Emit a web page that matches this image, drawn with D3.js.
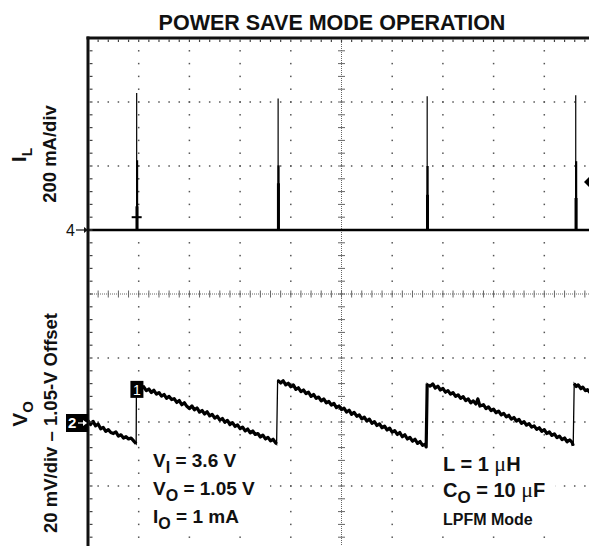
<!DOCTYPE html>
<html>
<head>
<meta charset="utf-8">
<script src="https://cdn.jsdelivr.net/npm/d3@7"></script>
<style>
  html, body { margin: 0; padding: 0; background: #fff; }
  svg { display: block; }
  text { font-family: "Liberation Sans", Arial, Helvetica, sans-serif; }
</style>
</head>
<body>
<script>
// ---- Scope screen: 10 horizontal x 8 vertical divisions ----
const titleText = "POWER SAVE MODE OPERATION";

// Inductor current (channel 4, 200 mA/div): baseline 0 mA plus short switching pulses
const ilSpikeTime = [0.96, 3.75, 6.69, 9.62];      // divisions
const ilSpikePeak = [428, 411, 418, 421];          // mA, thin trace tip
const ilSpikeMid  = [218, 202, 200, 215];          // mA, denser part of pulse
const ilSpikeLow  = [74, 146, 110, 100];           // mA, densest part of pulse
const ilTriggerMark = { t: 0.96, mA: 40 };

// Output voltage ripple (channel 2, 20 mV/div, 1.05-V offset)
const voTime = [
  0.00,0.05,0.10,0.15,0.20,0.25,0.30,0.35,0.40,0.45,0.50,0.55,0.60,0.65,0.70,0.75,0.80,0.85,0.90,0.95,
  0.955,
  1.00,1.05,1.10,1.15,1.20,1.25,1.30,1.35,1.40,1.45,1.50,1.55,1.60,1.65,1.70,1.75,1.80,1.85,1.90,1.95,
  2.00,2.05,2.10,2.15,2.20,2.25,2.30,2.35,2.40,2.45,2.50,2.55,2.60,2.65,2.70,2.75,2.80,2.85,2.90,2.95,
  3.00,3.05,3.10,3.15,3.20,3.25,3.30,3.35,3.40,3.45,3.50,3.55,3.60,3.65,3.70,3.72,
  3.74,
  3.76,3.80,3.85,3.90,3.95,4.00,4.05,4.10,4.15,4.20,4.25,4.30,4.35,4.40,4.45,4.50,4.55,4.60,4.65,4.70,
  4.75,4.80,4.85,4.90,4.95,5.00,5.05,5.10,5.15,5.20,5.25,5.30,5.35,5.40,5.45,5.50,5.55,5.60,5.65,5.70,
  5.75,5.80,5.85,5.90,5.95,6.00,6.05,6.10,6.15,6.20,6.25,6.30,6.35,6.40,6.45,6.50,6.55,6.60,6.65,6.67,
  6.69,
  6.72,6.75,6.80,6.85,6.90,6.95,7.00,7.05,7.10,7.15,7.20,7.25,7.30,7.35,7.40,7.45,7.50,7.55,7.60,7.65,
  7.69,7.73,7.80,7.85,7.90,7.95,8.00,8.05,8.10,8.15,8.20,8.25,8.30,8.35,8.40,8.45,8.50,8.55,8.60,8.65,
  8.70,8.75,8.80,8.85,8.90,8.95,9.00,9.05,9.10,9.15,9.20,9.25,9.30,9.35,9.40,9.45,9.50,9.55,9.57,
  9.59,
  9.63,9.67,9.72,9.76,9.81,9.85,9.90
];
const voMilliVolts = [
  0.4,-0.8,0.2,-1.2,-0.6,-2.1,-1.7,-2.9,-2.4,-3.3,-3.6,-3.1,-4.4,-4.0,-5.0,-4.6,-5.3,-5.0,-5.9,-6.8,
  11.6,
  10.9,10.4,11.0,9.8,10.3,9.2,9.9,8.7,9.2,8.1,8.6,7.4,8.0,7.0,7.3,6.1,6.7,5.4,6.0,4.9,
  4.2,5.0,3.8,4.4,3.1,3.6,2.5,3.2,1.9,2.4,1.2,1.8,0.6,1.1,-0.1,0.5,-0.8,-0.2,-1.4,-0.9,
  -2.1,-1.6,-2.8,-2.2,-3.4,-2.8,-3.9,-3.6,-4.7,-4.1,-5.3,-4.8,-5.9,-5.4,-6.5,-6.9,
  13.0,
  12.8,12.2,12.9,11.6,12.1,11.0,11.6,10.2,10.7,9.5,10.0,8.9,9.3,8.0,8.6,7.4,7.8,6.6,7.2,6.0,
  6.4,5.3,5.8,4.5,5.0,3.9,4.3,3.1,3.7,2.4,3.0,1.8,2.2,1.0,1.5,0.3,0.9,-0.4,0.1,-1.1,
  -0.6,-1.8,-1.3,-2.5,-1.9,-3.2,-2.7,-3.9,-3.3,-4.6,-4.0,-5.3,-4.8,-6.0,-5.4,-6.7,-6.1,-7.3,-6.9,-7.8,
  12.0,
  11.6,11.2,11.9,10.6,11.2,10.0,10.5,9.3,9.8,8.7,9.2,8.0,8.5,7.4,7.9,6.7,7.2,6.0,6.6,5.6,
  7.2,5.0,5.4,4.2,4.7,3.6,4.0,2.9,3.4,2.2,2.7,1.6,2.1,0.9,1.4,0.3,0.8,-0.4,0.1,-1.0,
  -0.5,-1.6,-1.2,-2.3,-1.8,-2.9,-2.4,-3.6,-3.1,-4.2,-3.7,-4.9,-4.4,-5.5,-5.0,-6.2,-5.6,-6.4,-7.4,
  12.0,
  11.1,11.6,10.4,10.9,9.8,10.1,9.2
];

const leftNotes  = [["V", "I", " = 3.6 V"], ["V", "O", " = 1.05 V"], ["I", "O", " = 1 mA"]];
const rightNotes = [["L = 1 ", "μ", "H"], ["C", "O", " = 10 ", "μ", "F"], ["LPFM Mode"]];

// ---- Layout ----
const W = 589, H = 546;
const svg = d3.select("body").append("svg").attr("width", W).attr("height", H);
svg.append("rect").attr("width", W).attr("height", H).attr("fill", "#fff");

const x = d3.scaleLinear().domain([0, 10]).range([88, 595]);
const y = d3.scaleLinear().domain([-4, 4]).range([550, 38]);
const ilDiv = mA => mA / 200 + 1;     // channel 4 ground one division above center
const voDiv = mV => mV / 20 - 2;      // channel 2 reference two divisions below center

svg.append("defs").append("clipPath").attr("id", "screen")
  .append("rect").attr("x", x(0)).attr("y", y(4)).attr("width", W - x(0)).attr("height", H - y(4));

const screen = svg.append("g").attr("clip-path", "url(#screen)");

// graticule
const minorX = d3.range(0, 10.001, 0.2);
const minorY = d3.range(-4, 4.001, 0.2);
const grid = screen.append("g").attr("fill", "#555");
[1, 2, 3, 4, 6, 7, 8, 9].forEach(d => {
  grid.selectAll(null).data(minorY).join("rect")
    .attr("x", x(d) - 0.75).attr("y", v => y(v) - 0.75).attr("width", 1.5).attr("height", 1.5);
});
[-3, -2, -1, 1, 2, 3].forEach(d => {
  grid.selectAll(null).data(minorX).join("rect")
    .attr("x", v => x(v) - 0.75).attr("y", y(d) - 0.75).attr("width", 1.5).attr("height", 1.5);
});
// center axes with cross ticks
const axes = screen.append("g").attr("stroke", "#666").attr("stroke-width", 1);
axes.append("line").attr("x1", x(0)).attr("x2", x(10)).attr("y1", y(0)).attr("y2", y(0))
  .attr("stroke-dasharray", "1,1");
axes.append("line").attr("x1", x(5)).attr("x2", x(5)).attr("y1", y(4)).attr("y2", y(-4))
  .attr("stroke-dasharray", "1,1");
axes.selectAll(null).data(minorX).join("line")
  .attr("x1", d => x(d)).attr("x2", d => x(d)).attr("y1", y(0) - 3.5).attr("y2", y(0) + 3.5);
axes.selectAll(null).data(minorY).join("line")
  .attr("x1", x(5) - 3.5).attr("x2", x(5) + 3.5).attr("y1", d => y(d)).attr("y2", d => y(d));

// border with ticks
const border = svg.append("g").attr("stroke", "#111");
border.append("line").attr("x1", x(0)).attr("x2", x(0)).attr("y1", y(4) - 1.5).attr("y2", H).attr("stroke-width", 3);
border.append("line").attr("x1", x(0) - 1.5).attr("x2", W).attr("y1", y(4)).attr("y2", y(4)).attr("stroke-width", 3);
border.selectAll(null).data(minorY.filter(d => d < 4)).join("line")
  .attr("stroke-width", 1.2).attr("stroke", "#444")
  .attr("x1", x(0) + 1.5).attr("x2", x(0) + 4.5).attr("y1", d => y(d)).attr("y2", d => y(d));
border.selectAll(null).data(minorX.filter(d => d > 0)).join("line")
  .attr("stroke-width", 1.2).attr("stroke", "#444")
  .attr("x1", d => x(d)).attr("x2", d => x(d)).attr("y1", y(4) + 1.5).attr("y2", y(4) + 4);

// annotation panels
const noteBoxes = screen.append("g").attr("fill", "#fff");
noteBoxes.append("rect").attr("x", 146).attr("y", 449).attr("width", 124).attr("height", 84);
noteBoxes.append("rect").attr("x", 437).attr("y", 449).attr("width", 118).attr("height", 84);

const notesL = svg.append("g").attr("font-weight", "bold").attr("font-size", 19).attr("fill", "#111");
leftNotes.forEach((n, i) => {
  const t = notesL.append("text").attr("x", 153).attr("y", 467 + i * 28);
  t.append("tspan").text(n[0]);
  t.append("tspan").attr("font-size", 16).attr("dy", 6).text(n[1]);
  t.append("tspan").attr("dy", -6).text(n[2]);
});
const notesR = svg.append("g").attr("font-weight", "bold").attr("font-size", 20).attr("fill", "#111");
{
  const t0 = notesR.append("text").attr("x", 443).attr("y", 471);
  t0.append("tspan").text(rightNotes[0][0]);
  t0.append("tspan").attr("font-weight", "normal").attr("font-family", "Liberation Serif, serif").attr("font-size", 22).text(rightNotes[0][1]);
  t0.append("tspan").text(rightNotes[0][2]);
  const t1 = notesR.append("text").attr("x", 443).attr("y", 497);
  t1.append("tspan").text(rightNotes[1][0]);
  t1.append("tspan").attr("font-size", 17).attr("dy", 6).text(rightNotes[1][1]);
  t1.append("tspan").attr("dy", -6).text(rightNotes[1][2]);
  t1.append("tspan").attr("font-weight", "normal").attr("font-family", "Liberation Serif, serif").attr("font-size", 22).text(rightNotes[1][3]);
  t1.append("tspan").text(rightNotes[1][4]);
  notesR.append("text").attr("x", 443).attr("y", 525).attr("font-size", 16).text(rightNotes[2][0]);
}

// ---- Traces ----
const traces = screen.append("g").attr("stroke", "#000").attr("fill", "none");

// inductor current baseline
traces.append("line").attr("stroke-width", 2.6)
  .attr("x1", x(0)).attr("x2", x(10)).attr("y1", y(ilDiv(0))).attr("y2", y(ilDiv(0)));
ilSpikeTime.forEach((t, i) => {
  traces.append("line").attr("stroke-width", 1.2)
    .attr("x1", x(t)).attr("x2", x(t)).attr("y1", y(ilDiv(0))).attr("y2", y(ilDiv(ilSpikePeak[i])));
  traces.append("line").attr("stroke-width", 2.2)
    .attr("x1", x(t) + 0.4).attr("x2", x(t) + 0.4).attr("y1", y(ilDiv(0))).attr("y2", y(ilDiv(ilSpikeMid[i])));
  traces.append("line").attr("stroke-width", 3)
    .attr("x1", x(t) + 0.3).attr("x2", x(t) + 0.3).attr("y1", y(ilDiv(0))).attr("y2", y(ilDiv(ilSpikeLow[i])));
});
traces.append("line").attr("stroke-width", 2)
  .attr("x1", x(ilTriggerMark.t) - 5).attr("x2", x(ilTriggerMark.t) + 5)
  .attr("y1", y(ilDiv(ilTriggerMark.mA))).attr("y2", y(ilDiv(ilTriggerMark.mA)));

// output voltage ripple: thin vertical edges, heavy noisy slopes
const voLine = d3.line().x(i => x(voTime[i])).y(i => y(voDiv(voMilliVolts[i])));
traces.append("path").attr("stroke-width", 1.3)
  .attr("d", voLine(d3.range(voTime.length)));
const edges = [20, 77, 139, 198];   // first sample after each step
const runs = [[0, 19], [20, 76], [77, 138], [139, 197], [198, voTime.length - 1]];
runs.forEach(([a, b]) => {
  traces.append("path").attr("stroke-width", 3.2).attr("stroke-linejoin", "round")
    .attr("d", voLine(d3.range(a, b + 1)));
});

// ---- Channel markers ----
const mk = svg.append("g");
mk.append("text").attr("x", 66).attr("y", y(ilDiv(0)) + 6).attr("font-size", 16).attr("fill", "#111").text("4");
mk.append("line").attr("x1", 76).attr("x2", 84).attr("y1", y(ilDiv(0))).attr("y2", y(ilDiv(0)))
  .attr("stroke", "#111").attr("stroke-width", 1.2);
mk.append("path").attr("d", `M84,${y(ilDiv(0)) - 3}L88,${y(ilDiv(0))}L84,${y(ilDiv(0)) + 3}Z`).attr("fill", "#111");

const c2y = y(voDiv(0));
mk.append("rect").attr("x", 66).attr("y", c2y - 8).attr("width", 22).attr("height", 18).attr("fill", "#000");
mk.append("text").attr("x", 68).attr("y", c2y + 6).attr("font-size", 15).attr("font-weight", "bold")
  .attr("fill", "#fff").text("2");
mk.append("line").attr("x1", 78).attr("x2", 84).attr("y1", c2y + 1).attr("y2", c2y + 1)
  .attr("stroke", "#fff").attr("stroke-width", 1.2);
mk.append("path").attr("d", `M83,${c2y - 2}L87,${c2y + 1}L83,${c2y + 4}Z`).attr("fill", "#fff");

const c1x = x(voTime[edges[0]]), c1y = y(voDiv(voMilliVolts[edges[0]]));
mk.append("rect").attr("x", c1x - 6).attr("y", c1y - 4).attr("width", 13).attr("height", 17).attr("fill", "#000");
mk.append("text").attr("x", c1x + 0.5).attr("y", c1y + 10).attr("text-anchor", "middle").attr("font-size", 14)
  .attr("font-family", "Liberation Serif, serif").attr("fill", "#fff").text("1");

// trigger level marker on right edge
const tly = y(ilDiv(150));
mk.append("path").attr("d", `M584,${tly}L589,${tly - 5}L594,${tly}L589,${tly + 5}Z`).attr("fill", "#000");

// ---- Titles and axis labels ----
svg.append("text").attr("x", 332).attr("y", 30).attr("text-anchor", "middle")
  .attr("font-size", 21.5).attr("font-weight", "bold").attr("fill", "#111").text(titleText);

const lab = svg.append("g").attr("font-weight", "bold").attr("fill", "#111").attr("text-anchor", "middle");
const il = lab.append("text").attr("transform", "translate(26,155) rotate(-90)").attr("font-size", 21);
il.append("tspan").text("I");
il.append("tspan").attr("font-size", 14).attr("dy", 6).text("L");
lab.append("text").attr("transform", "translate(56,154) rotate(-90)").attr("font-size", 18.5).text("200 mA/div");
const vo = lab.append("text").attr("transform", "translate(27,414) rotate(-90)").attr("font-size", 21);
vo.append("tspan").text("V");
vo.append("tspan").attr("font-size", 15).attr("dy", 6).text("O");
lab.append("text").attr("transform", "translate(57,423) rotate(-90)").attr("font-size", 18.5)
  .text("20 mV/div \u2013 1.05-V Offset");
</script>
</body>
</html>
